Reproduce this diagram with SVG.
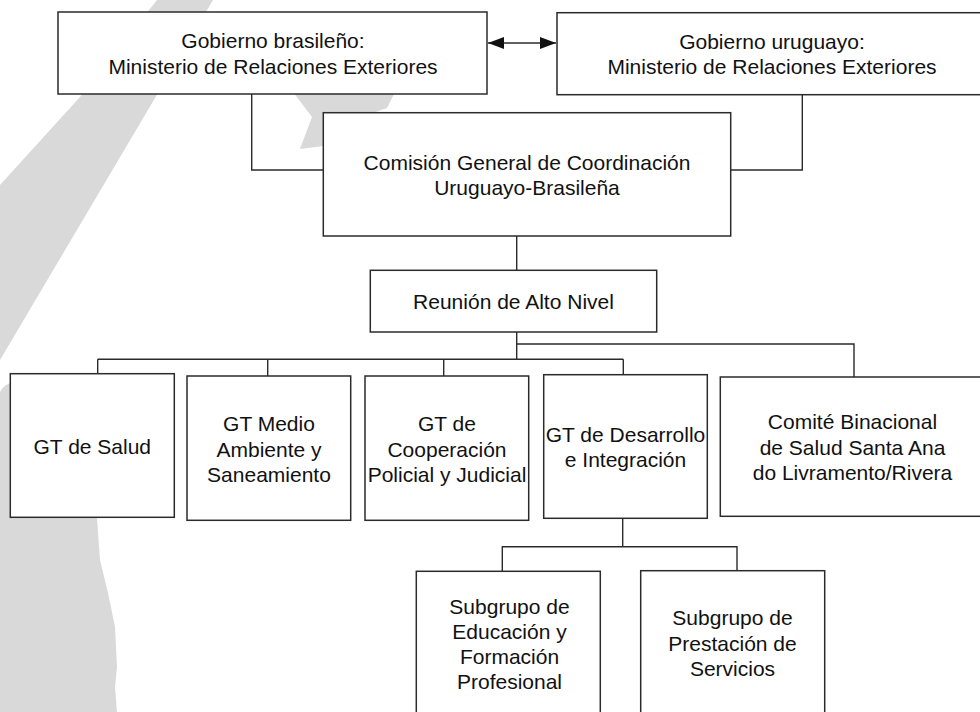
<svg xmlns="http://www.w3.org/2000/svg" width="980" height="712" viewBox="0 0 980 712">
<style>
.bg{fill:#d9d9d9;stroke:none}
.box{fill:#ffffff;stroke:#2b2b2b;stroke-width:1.5}
.ln{fill:none;stroke:#2b2b2b;stroke-width:1.4}
text{font-family:"Liberation Sans",Arial,Helvetica,sans-serif;font-size:21px;fill:#111;text-anchor:middle}
</style>
<defs>
<marker id="ah" viewBox="0 0 16 12" refX="16" refY="6" markerWidth="16" markerHeight="12" markerUnits="userSpaceOnUse" orient="auto-start-reverse">
<path d="M0,0 L16,6 L0,12 Z" fill="#111"/>
</marker>
</defs>
<rect x="0" y="0" width="980" height="712" fill="#ffffff"/>
<g id="background">
<polygon class="bg" points="157,0 213,0 0,360 0,185 80,97"/>
<polygon class="bg" points="290,88 397,88 387,108 330,128 323,146 300,149 312,117"/>
<path class="bg" d="M0,712 L0,392 Q6,380 20,384 L97,518 L100,560 L108,593 L115,627 L117,667 L115,687 L117,712 Z"/>
</g>
<g id="connectors">
<line class="ln" x1="488" y1="43" x2="556" y2="43" marker-start="url(#ah)" marker-end="url(#ah)"/>
<path class="ln" d="M251.7,94 V170 H323.3"/>
<path class="ln" d="M802.3,94.7 V170 H730.7"/>
<path class="ln" d="M516.7,236 V270.3"/>
<path class="ln" d="M516.7,332 V359.3"/>
<path class="ln" d="M97.7,359.3 H623.3"/>
<path class="ln" d="M97.7,359.3 V373.7"/>
<path class="ln" d="M267.7,359.3 V376"/>
<path class="ln" d="M443.7,359.3 V376"/>
<path class="ln" d="M623.3,359.3 V374.7"/>
<path class="ln" d="M516.7,344 H854 V377"/>
<path class="ln" d="M622.7,518.3 V546.7"/>
<path class="ln" d="M502.3,571.3 V546.7 H737 V570.7"/>
</g>
<g id="n-brasil">
<rect class="box" x="58" y="12" width="429" height="82"/>
<text x="273" y="48">Gobierno brasileño:</text>
<text x="273" y="74">Ministerio de Relaciones Exteriores</text>
</g>
<g id="n-uruguay">
<rect class="box" x="557" y="12.7" width="440" height="82"/>
<text x="772" y="49">Gobierno uruguayo:</text>
<text x="772" y="74">Ministerio de Relaciones Exteriores</text>
</g>
<g id="n-comision">
<rect class="box" x="323.3" y="112.7" width="407.4" height="123.3"/>
<text x="527" y="170">Comisión General de Coordinación</text>
<text x="527" y="194.5">Uruguayo-Brasileña</text>
</g>
<g id="n-reunion">
<rect class="box" x="370.3" y="270.3" width="286.4" height="61.7"/>
<text x="513.5" y="309.3">Reunión de Alto Nivel</text>
</g>
<g id="n-salud">
<rect class="box" x="10.3" y="373.7" width="164" height="143.6"/>
<text x="92.3" y="454.3">GT de Salud</text>
</g>
<g id="n-medio">
<rect class="box" x="187" y="376" width="163.7" height="144.3"/>
<text x="269" y="431">GT Medio</text>
<text x="269" y="457">Ambiente y</text>
<text x="269" y="482.3">Saneamiento</text>
</g>
<g id="n-cooperacion">
<rect class="box" x="365" y="376" width="163.7" height="144.3"/>
<text x="447" y="431">GT de</text>
<text x="447" y="457">Cooperación</text>
<text x="447" y="482.3">Policial y Judicial</text>
</g>
<g id="n-desarrollo">
<rect class="box" x="543.7" y="374.7" width="163.6" height="143.6"/>
<text x="625.5" y="441.7">GT de Desarrollo</text>
<text x="625.5" y="467.3">e Integración</text>
</g>
<g id="n-comite">
<rect class="box" x="720.3" y="377" width="280" height="139.3"/>
<text x="852.5" y="429">Comité Binacional</text>
<text x="852.5" y="454.7">de Salud Santa Ana</text>
<text x="852.5" y="480">do Livramento/Rivera</text>
</g>
<g id="n-educacion">
<rect class="box" x="416.3" y="571.3" width="184" height="160"/>
<text x="509.5" y="614">Subgrupo de</text>
<text x="509.5" y="639">Educación y</text>
<text x="509.5" y="664.3">Formación</text>
<text x="509.5" y="689.3">Profesional</text>
</g>
<g id="n-prestacion">
<rect class="box" x="640.7" y="570.7" width="184" height="160"/>
<text x="732.5" y="625">Subgrupo de</text>
<text x="732.5" y="650.7">Prestación de</text>
<text x="732.5" y="675.7">Servicios</text>
</g>
</svg>
